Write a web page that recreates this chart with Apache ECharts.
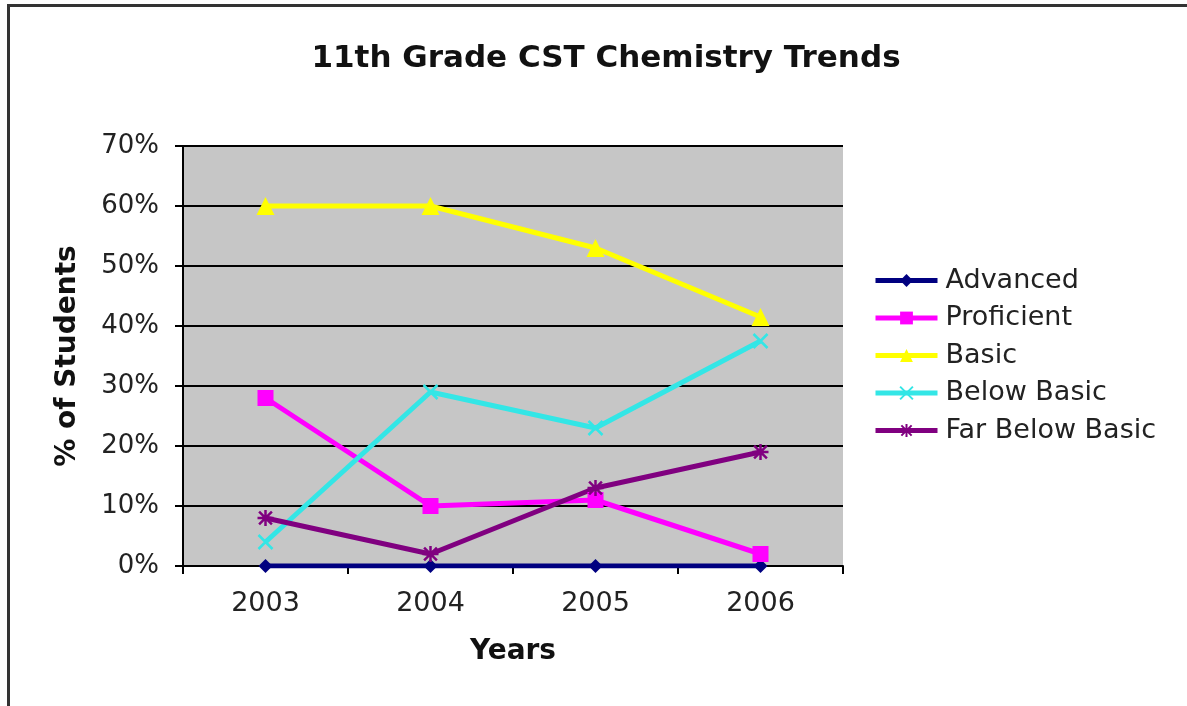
<!DOCTYPE html>
<html>
<head>
<meta charset="utf-8">
<script src="https://cdn.jsdelivr.net/npm/echarts@6/dist/echarts.min.js"></script>
<style>
  html, body { margin: 0; padding: 0; background: #fff; }
  #chart { width: 1187px; height: 706px; }
</style>
</head>
<body>
<div id="chart"></div>
<script>
// ==============================
// data
// ==============================
const years = ['2003', '2004', '2005', '2006'];
const advanced = [0, 0, 0, 0];
const proficient = [28, 10, 11, 2];
const basic = [60, 60, 53, 41.5];
const belowBasic = [4, 29, 23, 37.5];
const farBelowBasic = [8, 2, 13, 19];

const seriesNames = ['Advanced', 'Proficient', 'Basic', 'Below Basic', 'Far Below Basic'];
const seriesColors = ['#000080', '#FF00FF', '#FFFF00', '#33E6E6', '#800080'];

const FONT = 'DejaVu Sans';

// marker shapes (x and asterisk drawn as strokes)
const xPath = 'path://M0,0L10,10M10,0L0,10';
const starPath = 'path://M5,0L5,10M0,5L10,5M1,1L9,9M9,1L1,9';

function lineSeries(name, data, color, symbol, size, stroke) {
  return {
    name: name,
    type: 'line',
    data: data,
    symbol: symbol,
    symbolSize: size,
    showAllSymbol: true,
    lineStyle: { color: color, width: 5 },
    itemStyle: stroke
      ? { color: 'rgba(0,0,0,0)', borderColor: color, borderWidth: 2.5 }
      : { color: color, borderWidth: 0 },
    emphasis: { disabled: true }
  };
}

const chart = echarts.init(document.getElementById('chart'));

chart.setOption({
  animation: false,
  textStyle: { fontFamily: FONT },
  title: {
    text: '11th Grade CST Chemistry Trends',
    left: 601,
    textAlign: 'center',
    top: 38,
    textStyle: { fontFamily: FONT, fontSize: 31, fontWeight: 'bold', color: '#111' }
  },
  graphic: [
    { type: 'line', shape: { x1: 8.5, y1: 5, x2: 8.5, y2: 706 }, style: { stroke: '#333', lineWidth: 3 } },
    { type: 'line', shape: { x1: 7, y1: 5.5, x2: 1187, y2: 5.5 }, style: { stroke: '#333', lineWidth: 3 } }
  ],
  legend: {
    orient: 'vertical',
    left: 868,
    top: 262,
    itemWidth: 62,
    itemHeight: 16,
    itemGap: 10.5,
    data: seriesNames,
    lineStyle: { width: 5 },
    textStyle: { fontFamily: FONT, fontSize: 27, color: '#222', padding: [0, 0, 0, 3] }
  },
  grid: {
    left: 183,
    right: 344,
    top: 146,
    bottom: 140,
    show: true,
    backgroundColor: '#C6C6C6',
    borderWidth: 0
  },
  xAxis: {
    type: 'category',
    data: years,
    boundaryGap: true,
    name: 'Years',
    nameLocation: 'middle',
    nameGap: 72,
    nameTextStyle: { fontFamily: FONT, fontSize: 28, fontWeight: 'bold', color: '#111' },
    axisLine: { lineStyle: { color: '#000', width: 2 } },
    axisTick: { show: true, length: 8, lineStyle: { color: '#000', width: 2 } },
    axisLabel: { fontFamily: FONT, fontSize: 27, color: '#222', margin: 24 },
    splitLine: { show: false }
  },
  yAxis: {
    type: 'value',
    min: 0,
    max: 70,
    interval: 10,
    name: '% of Students',
    nameLocation: 'middle',
    nameGap: 101,
    nameRotate: 90,
    nameTextStyle: { fontFamily: FONT, fontSize: 28, fontWeight: 'bold', color: '#111' },
    axisLine: { show: true, lineStyle: { color: '#000', width: 2 } },
    axisTick: { show: true, length: 8, lineStyle: { color: '#000', width: 2 } },
    axisLabel: { fontFamily: FONT, fontSize: 26, color: '#222', margin: 24, formatter: '{value}%' },
    splitLine: { show: true, lineStyle: { color: '#000', width: 2 } }
  },
  series: [
    lineSeries('Advanced', advanced, seriesColors[0], 'diamond', 14, false),
    lineSeries('Proficient', proficient, seriesColors[1], 'rect', 16, false),
    lineSeries('Basic', basic, seriesColors[2], 'triangle', 18, false),
    lineSeries('Below Basic', belowBasic, seriesColors[3], xPath, 14, true),
    lineSeries('Far Below Basic', farBelowBasic, seriesColors[4], starPath, 16, true)
  ]
});
</script>
</body>
</html>
